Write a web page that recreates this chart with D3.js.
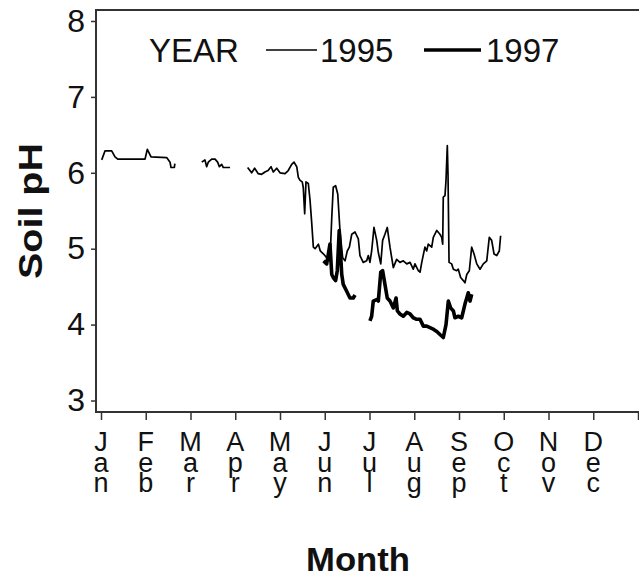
<!DOCTYPE html>
<html>
<head>
<meta charset="utf-8">
<script src="https://cdn.jsdelivr.net/npm/d3@7"></script>
<style>
  html, body { margin: 0; padding: 0; background: #fff; }
  svg { display: block; font-family: "Liberation Sans", Arial, sans-serif; }
</style>
</head>
<body>
<svg id="chart" width="639" height="578"></svg>
<script>
// Month axis: labels are stacked one letter per line under each tick
const months = ["Jan","Feb","Mar","Apr","May","Jun","Jul","Aug","Sep","Oct","Nov","Dec"];
const monthStartDay = [0,31,59,90,120,151,181,212,243,273,304,334,365];
const phTicks = [3,4,5,6,7,8];
const years = ["1995","1997"];

// Soil pH readings: [day of year, pH]; each array is one unbroken run of records
const ph1995a = [[0.5,6.17],[2.8,6.29],[7.4,6.29],[9.7,6.21],[11.6,6.18],[30.5,6.18],[32.0,6.31],[34.3,6.21],[44.1,6.20],[46.2,6.14],[46.8,6.07],[48.9,6.07],[49.2,6.12]];
const ph1995b = [[66.8,6.14],[69.0,6.17],[70.2,6.08],[71.3,6.14],[73.7,6.18],[76.0,6.18],[77.8,6.14],[79.0,6.08],[80.6,6.11],[81.7,6.07],[86.4,6.07]];
const ph1995c = [[98.3,6.07],[101.0,6.00],[103.0,6.06],[105.3,5.99],[107.7,5.98],[109.9,6.01],[112.0,6.03],[114.0,6.08],[115.5,6.01],[117.8,6.06],[120.0,6.00],[123.5,5.99],[125.7,6.03],[128.1,6.11],[129.7,6.14],[131.6,6.08],[132.7,5.94],[133.9,5.90],[135.4,5.88],[136.1,5.81],[137.1,5.46],[138.0,5.88],[139.6,5.86],[140.8,5.64],[142.0,5.33],[143.1,5.02],[144.3,5.00],[146.6,5.06],[147.9,4.97],[150.2,4.93],[152.3,4.88],[154.5,4.84],[155.7,5.41],[156.7,5.81],[158.3,5.83],[159.7,5.72],[161.2,5.24],[163.0,4.88],[164.6,4.84],[166.1,4.97],[167.5,5.02],[169.1,5.19],[171.3,5.22],[173.5,5.13],[174.6,4.91],[176.8,4.82],[179.1,4.84],[180.2,4.91],[181.3,4.82],[182.5,4.97],[184.1,5.28],[186.0,5.11],[187.1,4.95],[188.8,4.80],[190.1,5.11],[191.7,5.19],[193.3,5.28],[195.2,5.02],[197.5,4.75],[199.8,4.86],[202.1,4.82],[204.4,4.84],[206.8,4.80],[209.1,4.82],[211.3,4.73],[212.5,4.80],[214.8,4.71],[216.0,4.69],[217.2,4.82],[219.4,5.02],[220.6,4.97],[221.7,5.06],[224.1,5.02],[225.2,5.15],[227.6,5.24],[229.8,5.19],[231.0,5.15],[231.7,5.06],[232.1,5.68],[233.3,5.70],[234.0,5.90],[234.9,6.36],[235.4,5.97],[236.1,4.82],[237.9,4.80],[239.1,4.73],[241.4,4.71],[242.5,4.73],[244.1,4.62],[245.9,4.58],[247.0,4.55],[248.2,4.66],[249.9,4.71],[251.5,5.02],[253.1,4.93],[254.9,4.80],[257.1,4.73],[259.3,4.80],[261.6,4.84],[263.3,5.15],[264.9,5.11],[266.5,4.93],[268.3,4.91],[270.0,4.97],[270.9,5.17]];
const ph1997a = [[150.2,4.84],[152.3,4.80],[154.5,5.06],[155.7,4.66],[156.7,4.62],[158.3,4.58],[159.4,4.71],[160.7,5.24],[162.4,4.66],[163.4,4.53],[165.7,4.44],[167.9,4.35],[170.1,4.35],[171.3,4.39]];
const ph1997b = [[181.3,4.05],[182.5,4.11],[183.6,4.31],[186.0,4.33],[187.1,4.31],[188.8,4.69],[190.1,4.71],[191.7,4.53],[193.3,4.35],[195.2,4.31],[197.5,4.22],[199.4,4.35],[200.3,4.18],[202.1,4.14],[204.4,4.11],[206.8,4.16],[209.1,4.14],[211.3,4.09],[213.7,4.07],[216.0,4.07],[218.3,3.98],[220.6,3.98],[222.9,3.96],[225.2,3.94],[227.6,3.91],[229.8,3.87],[232.1,3.83],[234.0,4.00],[235.6,4.31],[237.2,4.22],[239.1,4.18],[240.2,4.09],[242.5,4.11],[244.8,4.09],[247.0,4.27],[248.2,4.35],[249.2,4.42],[250.4,4.31],[251.5,4.40]];

const svg = d3.select("#chart");
const frame = { left: 96, top: 10, right: 640, bottom: 412 };
const axisColor = "#333";
const textColor = "#111";

// Months are spaced evenly, so day-of-year maps piecewise onto equal steps
const x = d3.scaleLinear()
  .domain(monthStartDay)
  .range(monthStartDay.map((d, i) => 101 + i * 44.75));
const y = d3.scaleLinear().domain([3, 8]).range([400.5, 21]);

// Plot frame
svg.append("rect")
  .attr("x", frame.left).attr("y", frame.top)
  .attr("width", frame.right - frame.left).attr("height", frame.bottom - frame.top)
  .attr("fill", "none").attr("stroke", axisColor).attr("stroke-width", 2);

// Y axis
const yAxis = svg.append("g")
  .attr("transform", `translate(${frame.left},0)`)
  .call(d3.axisLeft(y).tickValues(phTicks).tickSize(5).tickPadding(6).tickFormat(d3.format("d")));
yAxis.select(".domain").remove();
yAxis.selectAll(".tick line").attr("stroke", axisColor).attr("stroke-width", 1.5);
yAxis.selectAll(".tick text")
  .attr("font-size", 32).attr("fill", textColor)
  .attr("font-family", "'Liberation Sans', Arial, sans-serif");

// X axis: ticks at each month start, label letters stacked vertically
const xAxis = svg.append("g")
  .attr("transform", `translate(0,${frame.bottom})`)
  .call(d3.axisBottom(x).tickValues(monthStartDay).tickSize(8).tickFormat(""));
xAxis.select(".domain").remove();
xAxis.selectAll(".tick line").attr("stroke", axisColor).attr("stroke-width", 1.5);

const monthLabels = svg.append("g")
  .attr("font-size", 27).attr("fill", textColor).attr("text-anchor", "middle");
months.forEach((m, i) => {
  const cx = x(monthStartDay[i]);
  const t = monthLabels.append("text").attr("x", cx).attr("y", 451);
  m.split("").forEach((ch, j) => {
    t.append("tspan")
      .attr("x", cx).attr("dy", j === 0 ? 0 : 20.5)
      .text(ch);
  });
});

// Axis titles
svg.append("text")
  .attr("x", 358).attr("y", 571)
  .attr("text-anchor", "middle").attr("font-size", 34).attr("font-weight", "bold")
  .attr("textLength", 104).attr("lengthAdjust", "spacingAndGlyphs")
  .attr("fill", textColor).text("Month");
svg.append("text")
  .attr("transform", "translate(42,211) rotate(-90)")
  .attr("text-anchor", "middle").attr("font-size", 34).attr("font-weight", "bold")
  .attr("textLength", 136).attr("lengthAdjust", "spacingAndGlyphs")
  .attr("fill", textColor).text("Soil pH");

// Series lines
const line = d3.line().x(d => x(d[0])).y(d => y(d[1]));
const series = [
  { runs: [ph1995a, ph1995b, ph1995c], width: 1.7 },
  { runs: [ph1997a, ph1997b], width: 3.6 }
];
series.forEach(s => {
  s.runs.forEach(run => {
    svg.append("path")
      .attr("d", line(run))
      .attr("fill", "none").attr("stroke", "#000")
      .attr("stroke-width", s.width)
      .attr("stroke-linejoin", "round");
  });
});

// Legend
const legend = svg.append("g").attr("font-size", 33).attr("fill", textColor);
legend.append("text").attr("x", 149).attr("y", 62).text("YEAR");
const legendItems = [
  { x1: 266, x2: 317, tx: 320, width: 1.7 },
  { x1: 424, x2: 481, tx: 486, width: 3.6 }
];
legendItems.forEach((it, i) => {
  legend.append("line")
    .attr("x1", it.x1).attr("x2", it.x2).attr("y1", 50).attr("y2", 50)
    .attr("stroke", "#000").attr("stroke-width", it.width);
  legend.append("text").attr("x", it.tx).attr("y", 62).text(years[i]);
});
</script>
</body>
</html>
